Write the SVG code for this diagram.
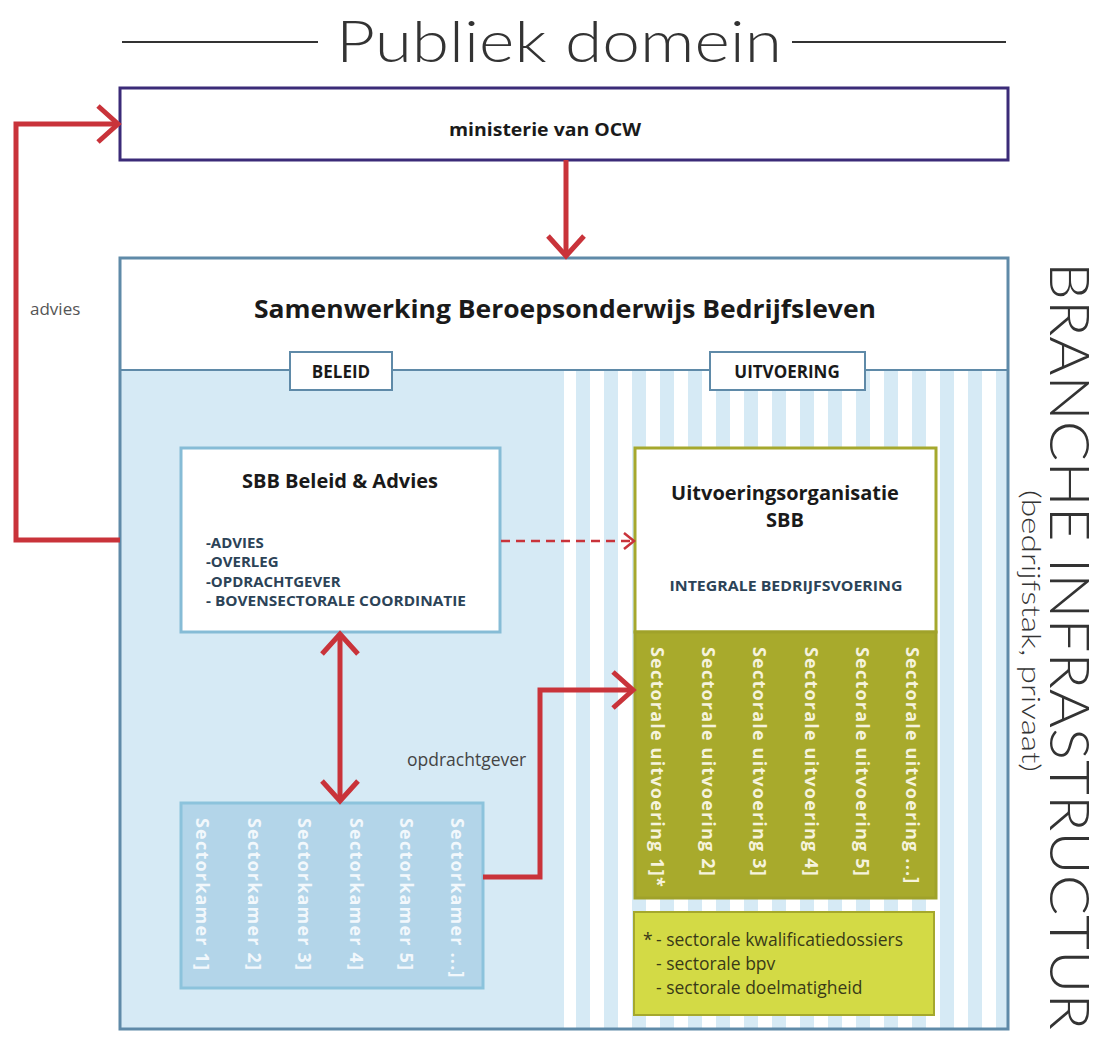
<svg xmlns="http://www.w3.org/2000/svg" width="1114" height="1056" viewBox="0 0 1114 1056">
<style>
.red{fill:none;stroke:#c9333a;stroke-width:5}
.b{font-family:"Open Sans","Liberation Sans",sans-serif;font-weight:700}
.r{font-family:"Open Sans","Liberation Sans",sans-serif;font-weight:400}
.thin{font-family:Lato,"Open Sans","Liberation Sans",sans-serif;font-weight:300;fill:#333}
.list{font-size:15px;fill:#2c4357}
.vk{font-size:18px;fill:#f2f8fc;letter-spacing:1.2px}
.vu{font-size:18px;fill:#f6f3dc;letter-spacing:1.2px}
.fn{font-size:17.5px;fill:#3a3a18}
</style>
<defs>
<marker id="chev" markerUnits="userSpaceOnUse" markerWidth="44" markerHeight="44" viewBox="0 0 44 44" refX="40" refY="22" orient="auto-start-reverse">
<path d="M20,4 L40,22 L20,40" fill="none" stroke="#c9333a" stroke-width="5"/>
</marker>
<marker id="chevs" markerUnits="userSpaceOnUse" markerWidth="20" markerHeight="20" viewBox="0 0 20 20" refX="18" refY="10" orient="auto">
<path d="M8,2 L18,10 L8,18" fill="none" stroke="#c9333a" stroke-width="2.5"/>
</marker>
<pattern id="stripes" patternUnits="userSpaceOnUse" x="576" y="0" width="28" height="28">
<rect x="0" y="0" width="28" height="28" fill="#ffffff"/>
<rect x="0" y="0" width="14" height="28" fill="#d6eaf5"/>
</pattern>
</defs>
<rect width="1114" height="1056" fill="#ffffff"/>

<g id="title">
<line x1="122" y1="42" x2="318" y2="42" stroke="#333" stroke-width="2"/>
<line x1="792" y1="42" x2="1006" y2="42" stroke="#333" stroke-width="2"/>
<text class="thin" x="336" y="62" font-size="58" textLength="446" lengthAdjust="spacingAndGlyphs">Publiek domein</text>
</g>

<g id="ministerie">
<rect x="120" y="88" width="888" height="72" fill="#ffffff" stroke="#3b2b78" stroke-width="3"/>
<text class="b" x="545" y="136" font-size="17" text-anchor="middle" fill="#1a1a1a" textLength="192" lengthAdjust="spacingAndGlyphs">ministerie van OCW</text>
</g>

<g id="sbb">
<rect x="120" y="258" width="888" height="771" fill="#ffffff"/>
<rect x="121" y="371" width="443" height="658" fill="#d6eaf5"/>
<rect x="564" y="371" width="443" height="658" fill="url(#stripes)"/>
<line x1="120" y1="370" x2="1008" y2="370" stroke="#5f8aa8" stroke-width="2"/>
<rect x="120" y="258" width="888" height="771" fill="none" stroke="#5f8aa8" stroke-width="3"/>
<text class="b" x="565" y="318" font-size="25" text-anchor="middle" fill="#1a1a1a" textLength="622" lengthAdjust="spacingAndGlyphs">Samenwerking Beroepsonderwijs Bedrijfsleven</text>
</g>

<g id="beleid-tab">
<rect x="290" y="352" width="102" height="38" fill="#ffffff" stroke="#5f8aa8" stroke-width="2"/>
<text class="b" x="341" y="378" font-size="17" text-anchor="middle" fill="#1a1a1a">BELEID</text>
</g>

<g id="uitvoering-tab">
<rect x="710" y="352" width="155" height="38" fill="#ffffff" stroke="#5f8aa8" stroke-width="2"/>
<text class="b" x="787" y="378" font-size="17" text-anchor="middle" fill="#1a1a1a">UITVOERING</text>
</g>

<g id="beleid-advies">
<rect x="181" y="448" width="319" height="184" fill="#ffffff" stroke="#86bcd6" stroke-width="3"/>
<text class="b" x="340" y="488" font-size="20" text-anchor="middle" fill="#1a1a1a">SBB Beleid &amp; Advies</text>
<text class="b list" x="206" y="548">-ADVIES</text>
<text class="b list" x="206" y="567">-OVERLEG</text>
<text class="b list" x="206" y="587">-OPDRACHTGEVER</text>
<text class="b list" x="206" y="606" textLength="260" lengthAdjust="spacingAndGlyphs">- BOVENSECTORALE COORDINATIE</text>
</g>

<g id="uitvoeringsorganisatie">
<rect x="635" y="448" width="301" height="184" fill="#ffffff" stroke="#a5a82d" stroke-width="3"/>
<text class="b" x="785" y="500" font-size="20" text-anchor="middle" fill="#1a1a1a">Uitvoeringsorganisatie</text>
<text class="b" x="785" y="527" font-size="20" text-anchor="middle" fill="#1a1a1a">SBB</text>
<text class="b list" x="786" y="591" text-anchor="middle" textLength="233" lengthAdjust="spacingAndGlyphs">INTEGRALE BEDRIJFSVOERING</text>
</g>

<g id="sectorale-uitvoering">
<rect x="635" y="632" width="301" height="266" fill="#a8aa2c" stroke="#a0a22a" stroke-width="3"/>
<text class="b vu" transform="translate(651,647) rotate(90)">Sectorale uitvoering 1]*</text>
<text class="b vu" transform="translate(702,647) rotate(90)">Sectorale uitvoering 2]</text>
<text class="b vu" transform="translate(753,647) rotate(90)">Sectorale uitvoering 3]</text>
<text class="b vu" transform="translate(805,647) rotate(90)">Sectorale uitvoering 4]</text>
<text class="b vu" transform="translate(856,647) rotate(90)">Sectorale uitvoering 5]</text>
<text class="b vu" transform="translate(906,647) rotate(90)">Sectorale uitvoering ...]</text>
</g>

<g id="voetnoot">
<rect x="634" y="912" width="300" height="103" fill="#d3da45" stroke="#a5a82d" stroke-width="2"/>
<text class="r fn" x="643" y="946">*</text>
<text class="r fn" x="656" y="946">- sectorale kwalificatiedossiers</text>
<text class="r fn" x="656" y="970">- sectorale bpv</text>
<text class="r fn" x="656" y="994">- sectorale doelmatigheid</text>
</g>

<g id="sectorkamers">
<rect x="181" y="803" width="302" height="185" fill="#b3d5e9" stroke="#8cc3dc" stroke-width="3"/>
<text class="b vk" transform="translate(196,818) rotate(90)">Sectorkamer 1]</text>
<text class="b vk" transform="translate(248,818) rotate(90)">Sectorkamer 2]</text>
<text class="b vk" transform="translate(298,818) rotate(90)">Sectorkamer 3]</text>
<text class="b vk" transform="translate(350,818) rotate(90)">Sectorkamer 4]</text>
<text class="b vk" transform="translate(400,818) rotate(90)">Sectorkamer 5]</text>
<text class="b vk" transform="translate(451,818) rotate(90)">Sectorkamer ...]</text>
</g>

<g id="branche">
<text class="thin" transform="translate(1050,262) rotate(90)" font-size="56" textLength="768" lengthAdjust="spacingAndGlyphs">BRANCHE INFRASTRUCTUR</text>
<text class="thin" transform="translate(1022,490) rotate(90)" font-size="25" fill="#555" textLength="282" lengthAdjust="spacingAndGlyphs">(bedrijfstak, privaat)</text>
</g>

<g id="connectors">
<path class="red" d="M120,540 H16 V124 H118" marker-end="url(#chev)"/>
<path class="red" d="M566,160 V256" marker-end="url(#chev)"/>
<path class="red" d="M340,634 V801" marker-start="url(#chev)" marker-end="url(#chev)"/>
<path class="red" d="M483,877 H540 V690 H633" marker-end="url(#chev)"/>
<path d="M501,541 H634" fill="none" stroke="#c9333a" stroke-width="2.5" stroke-dasharray="9,6" marker-end="url(#chevs)"/>
<text class="r" x="30" y="315" font-size="17" fill="#555">advies</text>
<text class="r" x="407" y="766" font-size="17.5" fill="#444">opdrachtgever</text>
</g>
</svg>
